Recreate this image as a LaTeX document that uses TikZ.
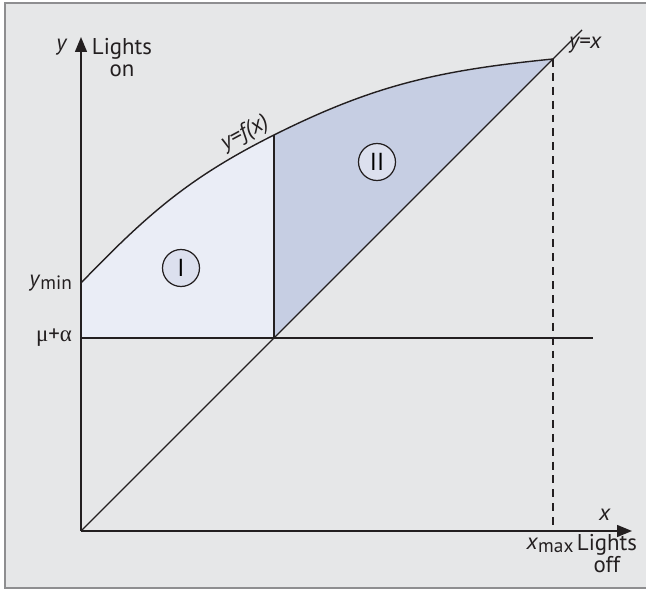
\documentclass[tikz,border=0pt]{standalone}
\usepackage{fontspec}
\setmainfont{PT Sans}
\newfontfamily\grk{Liberation Serif}
\usepackage{xcolor}
\definecolor{panel}{HTML}{E6E7E8}
\definecolor{frame}{HTML}{8E8E90}
\definecolor{ink}{HTML}{231F20}
\definecolor{paleblue}{HTML}{EAEDF6}
\definecolor{midblue}{HTML}{C6CEE3}
\definecolor{tagblue}{HTML}{DCE0EE}
\usepackage{tikz}
\usetikzlibrary{arrows.meta,positioning}
\tikzset{
  >={Triangle[length=8.5pt,width=6.8pt]},
  axis/.style  ={->,draw=ink,line width=0.8pt},
  curve/.style ={draw=ink,line width=0.8pt},
  guide/.style ={draw=ink,line width=0.8pt,dash pattern=on 4.5pt off 3.4pt},
  tag/.style   ={circle,draw=ink,fill=tagblue,line width=0.7pt,
                 minimum size=7.4mm,inner sep=0pt,font=\fontsize{14}{14}\selectfont},
  lbl/.style   ={font=\fontsize{13}{12.5}\selectfont,text=ink,inner sep=1pt,align=center},
}

\begin{document}
\begin{tikzpicture}[x=2cm,y=2cm]
\useasboundingbox (-0.81,-0.59) rectangle (5.65,5.31);
% panel
\fill[panel] (-0.76,-0.57) rectangle (5.70,5.28);
\draw[frame,line width=1.1pt] (5.70,-0.57) -- (-0.76,-0.57) -- (-0.76,5.28) -- (5.70,5.28);
% points
\coordinate (o)     at (0,0);
\coordinate (ytip)  at (0,4.94);
\coordinate (xtip)  at (5.51,0);
\coordinate (ymin)  at (0,2.48);
\coordinate (mua)   at (0,1.93);
\coordinate (muend) at (5.12,1.93);
\coordinate (p)     at (1.93,1.93);
\coordinate (c)     at (1.93,3.96);
\coordinate (q)     at (4.72,4.72);
\coordinate (qx)    at (4.72,0);
\coordinate (yx)    at (5.01,5.01);
% regions
\fill[paleblue] (mua) -- (ymin) to[out=46,in=206.6] (c) -- (p) -- cycle;
\fill[midblue] (p) -- (c) to[out=26.6,in=185.7] (q) -- cycle;
% lines
\draw[curve] (p) -- (c);
\draw[curve] (mua) -- (muend);
\draw[curve] (o) -- (yx);
\draw[guide] (q) -- (qx);
\draw[curve] (ymin) to[out=46,in=206.6]
  node[pos=.91,sloped,above,lbl,inner sep=2pt]{\itshape y=f(x)} (c)
  to[out=26.6,in=185.7] (q);
\draw[axis] (o) -- (ytip);
\draw[axis] (o) -- (xtip);
% circled tags
\node[tag] (one) at (1.00,2.63) {I};
\node[tag] (two) at (2.96,3.69) {II};
% axis labels
\node[lbl] (ylab) at (-0.19,4.84) {\textit{y}};
\node[lbl] (lon) at (0.41,4.73) {Lights\\on};
\node[lbl] (xlab) at (5.24,0.16) {\textit{x}};
\node[lbl] (loff) at (5.26,-0.23) {Lights\\off};
\node[lbl,anchor=north] (xmax) at (4.69,-0.05)
  {\textit{x}\raisebox{-.25ex}{\fontsize{11}{11}\selectfont max}};
\node[lbl,anchor=east] (ymn) at (-0.07,2.48)
  {\textit{y}\raisebox{-.25ex}{\fontsize{11}{11}\selectfont min}};
\node[lbl,anchor=east] (mal) at (-0.07,1.93) {{\grk μ}+{\grk α}};
\node[lbl,anchor=west] (yxl) at (4.86,4.86) {\itshape y=x};
\end{tikzpicture}
\end{document}
